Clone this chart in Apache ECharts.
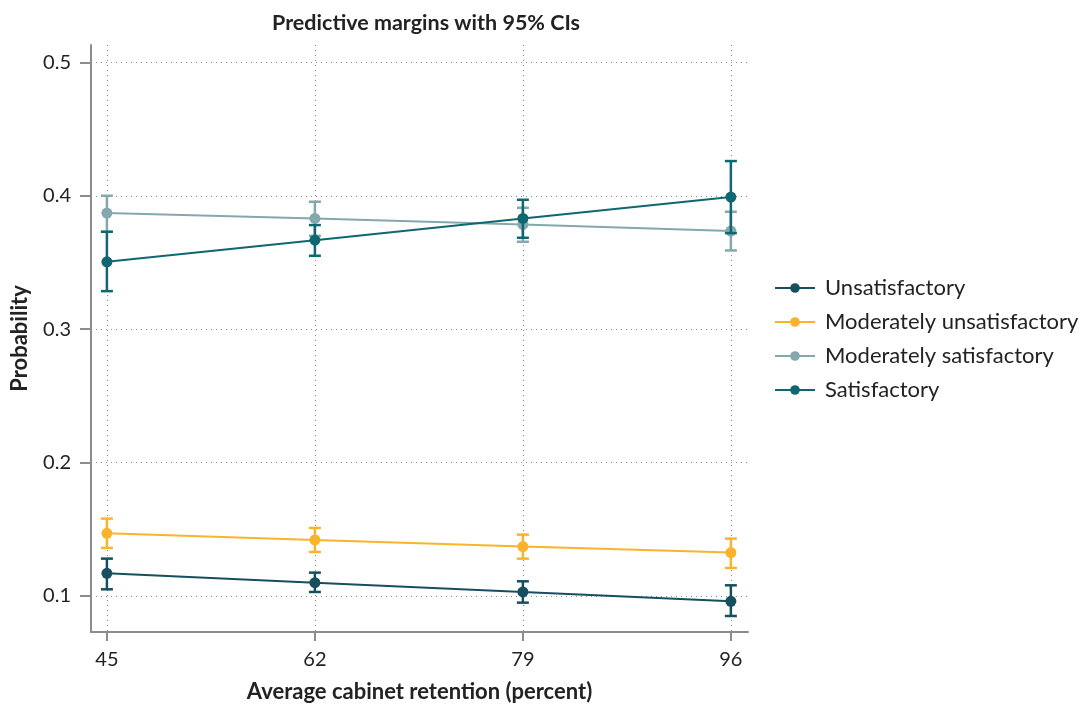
<!DOCTYPE html>
<html>
<head>
<meta charset="utf-8">
<script src="https://cdn.jsdelivr.net/npm/echarts@6/dist/echarts.min.js"></script>
<style>
  html, body { margin: 0; padding: 0; background: #fff; }
  #chart { width: 1081px; height: 704px; }
</style>
</head>
<body>
<div id="chart"></div>
<script>
// Average cabinet retention (percent)
const retention = [45, 62, 79, 96];
const yTicks = [0.1, 0.2, 0.3, 0.4, 0.5];

// Predicted probabilities and 95% confidence bounds per outcome
const unsatisfactory = [0.117, 0.110, 0.103, 0.096];
const unsatisfactoryLow = [0.105, 0.103, 0.095, 0.085];
const unsatisfactoryHigh = [0.128, 0.1175, 0.111, 0.108];

const modUnsatisfactory = [0.147, 0.142, 0.137, 0.1325];
const modUnsatisfactoryLow = [0.136, 0.133, 0.128, 0.121];
const modUnsatisfactoryHigh = [0.158, 0.151, 0.146, 0.143];

const modSatisfactory = [0.387, 0.383, 0.3785, 0.3735];
const modSatisfactoryLow = [0.373, 0.370, 0.3655, 0.359];
const modSatisfactoryHigh = [0.400, 0.3955, 0.391, 0.388];

const satisfactory = [0.3505, 0.3667, 0.383, 0.399];
const satisfactoryLow = [0.3285, 0.355, 0.3685, 0.372];
const satisfactoryHigh = [0.373, 0.378, 0.397, 0.426];

const outcomes = [
  { name: 'Unsatisfactory', color: '#164f5d', mid: unsatisfactory, low: unsatisfactoryLow, high: unsatisfactoryHigh },
  { name: 'Moderately unsatisfactory', color: '#fbb32b', mid: modUnsatisfactory, low: modUnsatisfactoryLow, high: modUnsatisfactoryHigh },
  { name: 'Moderately satisfactory', color: '#84a8ad', mid: modSatisfactory, low: modSatisfactoryLow, high: modSatisfactoryHigh },
  { name: 'Satisfactory', color: '#0f6770', mid: satisfactory, low: satisfactoryLow, high: satisfactoryHigh }
];

const FONT = 'Lato, "Noto Sans", sans-serif';

function errorBar(color) {
  return function (params, api) {
    const x = api.value(0);
    const lo = api.coord([x, api.value(1)]);
    const hi = api.coord([x, api.value(2)]);
    const cap = 6;
    const style = { stroke: color, lineWidth: 2.5 };
    return {
      type: 'group',
      children: [
        { type: 'line', shape: { x1: lo[0], y1: lo[1], x2: hi[0], y2: hi[1] }, style },
        { type: 'line', shape: { x1: lo[0] - cap, y1: lo[1], x2: lo[0] + cap, y2: lo[1] }, style },
        { type: 'line', shape: { x1: hi[0] - cap, y1: hi[1], x2: hi[0] + cap, y2: hi[1] }, style }
      ]
    };
  };
}

const series = [];
outcomes.forEach((o, i) => {
  series.push({
    name: o.name + ' CI',
    type: 'custom',
    renderItem: errorBar(o.color),
    encode: { x: 0, y: [1, 2] },
    data: retention.map((x, k) => [x, o.low[k], o.high[k]]),
    z: 2 + i * 2,
    silent: true
  });
  series.push({
    name: o.name,
    type: 'line',
    data: retention.map((x, k) => [x, o.mid[k]]),
    symbol: 'circle',
    symbolSize: 11,
    itemStyle: { color: o.color },
    lineStyle: { color: o.color, width: 2 },
    z: 3 + i * 2,
    animation: false
  });
});

const chart = echarts.init(document.getElementById('chart'));
chart.setOption({
  animation: false,
  backgroundColor: '#ffffff',
  title: {
    text: 'Predictive margins with 95% CIs',
    left: 421,
    textAlign: 'center',
    top: 7,
    textStyle: { fontFamily: FONT, fontSize: 21.5, fontWeight: 'bold', color: '#222' }
  },
  legend: {
    data: outcomes.map(o => o.name),
    orient: 'vertical',
    left: 769,
    top: 271,
    itemWidth: 40,
    itemHeight: 12,
    itemGap: 10,
    textStyle: { fontFamily: FONT, fontSize: 22, color: '#222', lineHeight: 24, padding: [0, 0, 0, 5] }
  },
  grid: { left: 91, right: 333, top: 45, bottom: 72, outerBoundsMode: 'none' },
  xAxis: {
    type: 'value',
    min: 43.7,
    max: 97.4,
    name: 'Average cabinet retention (percent)',
    nameLocation: 'middle',
    nameGap: 49,
    nameTextStyle: { fontFamily: FONT, fontSize: 22, fontWeight: 'bold', color: '#222' },
    axisLine: { show: true, onZero: false, lineStyle: { color: '#8c8c8c', width: 2 } },
    axisTick: { show: true, length: 9, customValues: retention, lineStyle: { color: '#8c8c8c', width: 2 } },
    axisLabel: { customValues: retention, margin: 18, fontFamily: FONT, fontSize: 20, color: '#222' },
    splitLine: { show: true, lineStyle: { color: '#8a8a8a', type: [1, 4], width: 1 } }
  },
  yAxis: {
    type: 'value',
    min: 0.073,
    max: 0.513,
    name: 'Probability',
    nameLocation: 'middle',
    nameGap: 60,
    nameRotate: 90,
    nameTextStyle: { fontFamily: FONT, fontSize: 22, fontWeight: 'bold', color: '#222' },
    axisLine: { show: true, onZero: false, lineStyle: { color: '#8c8c8c', width: 2 } },
    axisTick: { show: true, length: 11, customValues: yTicks, lineStyle: { color: '#8c8c8c', width: 2 } },
    axisLabel: { customValues: yTicks, margin: 20, fontFamily: FONT, fontSize: 20, color: '#222',
      formatter: v => v.toFixed(1) },
    splitLine: { show: true, lineStyle: { color: '#8a8a8a', type: [1, 4], width: 1 } }
  },
  series
});
</script>
</body>
</html>
